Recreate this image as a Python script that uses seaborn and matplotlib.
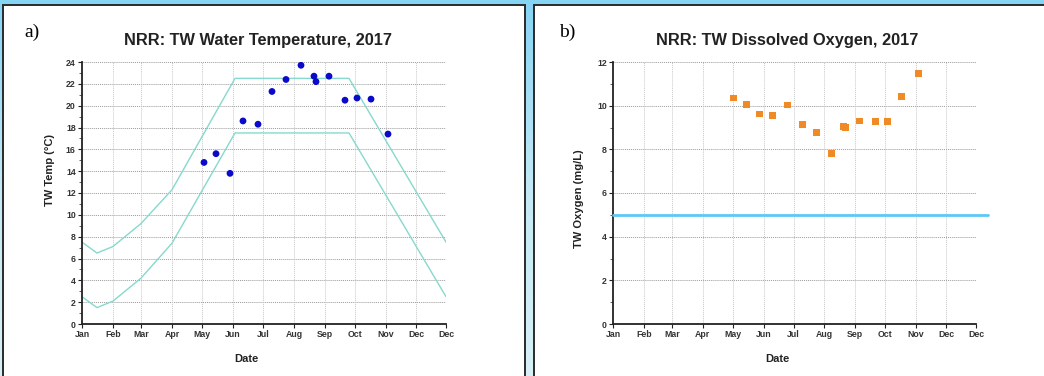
import numpy as np
import pandas as pd
import matplotlib
matplotlib.use("Agg")
import matplotlib.pyplot as plt
from matplotlib.colors import LinearSegmentedColormap
from matplotlib.patches import Rectangle
from matplotlib.ticker import MultipleLocator
import seaborn as sns

# sampling dates (shared by both panels)
sample_dates = ["2017-05-03", "2017-05-15", "2017-05-29", "2017-06-11", "2017-06-26",
                "2017-07-10", "2017-07-24", "2017-08-08", "2017-08-21", "2017-08-23",
                "2017-09-05", "2017-09-21", "2017-10-03", "2017-10-17", "2017-11-03"]
oxygen_dates = ["2017-05-02", "2017-05-15", "2017-05-28", "2017-06-10", "2017-06-25",
                "2017-07-10", "2017-07-24", "2017-08-08", "2017-08-20", "2017-08-22",
                "2017-09-05", "2017-09-21", "2017-10-03", "2017-10-17", "2017-11-03"]

water_temp = [14.8, 15.6, 13.8, 18.6, 18.3, 21.3, 22.4, 23.7, 22.7, 22.2,
              22.7, 20.5, 20.7, 20.6, 17.4]
oxygen = [10.35, 10.06, 9.62, 9.56, 10.03, 9.15, 8.77, 7.82, 9.06, 9.0,
          9.3, 9.26, 9.26, 10.43, 11.47]

# temperature threshold envelope
limit_dates = ["2017-01-01", "2017-01-16", "2017-02-01", "2017-03-01", "2017-04-01",
               "2017-06-03", "2017-09-25", "2017-12-31"]
upper_limit = [7.5, 6.5, 7.1, 9.2, 12.3, 22.5, 22.5, 7.5]
lower_limit = [2.5, 1.5, 2.1, 4.2, 7.4, 17.5, 17.5, 2.5]

oxygen_min = 5.0

month_ticks = ["2017-01-01", "2017-02-01", "2017-03-01", "2017-04-01", "2017-05-01",
               "2017-06-01", "2017-07-01", "2017-08-01", "2017-09-01", "2017-10-01",
               "2017-11-01", "2017-12-01", "2017-12-31"]
month_labels = ["Jan", "Feb", "Mar", "Apr", "May", "Jun", "Jul", "Aug", "Sep",
                "Oct", "Nov", "Dec", "Dec"]

sns.set_theme(style="white")
plt.rcParams["font.family"] = ["Liberation Sans", "DejaVu Sans"]

W, H = 1044, 376
fig = plt.figure(figsize=(W / 100, H / 100), dpi=100)

# light blue gradient background
bg = fig.add_axes([0, 0, 1, 1], zorder=-10)
grad = np.linspace(0, 1, 256).reshape(-1, 1)
cmap_bg = LinearSegmentedColormap.from_list("bg", ["#86d4f4", "#c4e9f6", "#d8f0f5"])
bg.imshow(grad, aspect="auto", cmap=cmap_bg, extent=[0, 1, 0, 1])
bg.set_axis_off()

# white panels
for x0, x1 in [(3, 525), (534, 1050)]:
    fig.patches.append(Rectangle((x0 / W, -0.05), (x1 - x0) / W, 1 - 5 / H + 0.05,
                                 transform=fig.transFigure, facecolor="white",
                                 edgecolor="#2a2a2a", linewidth=1.4, zorder=-5))


def px(x, y):
    return x / W, 1 - y / H


def style_axes(ax, ymax):
    ticks = pd.to_datetime(month_ticks)
    ax.set_xlim(ticks[0], ticks[-1])
    ax.set_ylim(0, ymax)
    ax.set_xticks(ticks)
    ax.set_xticklabels(month_labels)
    ax.yaxis.set_major_locator(MultipleLocator(2))
    ax.yaxis.set_minor_locator(MultipleLocator(1))
    for s in ["top", "right"]:
        ax.spines[s].set_visible(False)
    for s in ["left", "bottom"]:
        ax.spines[s].set_color("#222222")
        ax.spines[s].set_linewidth(1.3)
    ax.tick_params(axis="both", which="major", direction="out", length=3, width=0.8,
                   color="#222222", labelsize=6.3, pad=1.5, left=True, bottom=True)
    ax.tick_params(axis="y", which="minor", direction="out", length=2, width=0.6,
                   color="#444444", left=True)
    for lab in ax.get_xticklabels() + ax.get_yticklabels():
        lab.set_fontweight("bold")
        lab.set_color("#333333")
    ax.grid(False)
    for yv in np.arange(2, ymax + 0.1, 2):
        ax.axhline(yv, color="#9a9a9a", linestyle=(0, (1, 1)), linewidth=0.7, zorder=0)
    for t in ticks[1:]:
        ax.axvline(t, color="#c8c8c8", linestyle=(0, (1, 1)), linewidth=0.7, zorder=0)
    ax.set_xlabel("")
    ax.set_ylabel("")
    ax.set_facecolor("none")


# ---- panel a: water temperature ----
ax1 = fig.add_axes([82 / W, 1 - 324 / H, 364 / W, 262 / H])
limits = pd.DataFrame({"date": pd.to_datetime(limit_dates),
                       "upper": upper_limit, "lower": lower_limit})
temps = pd.DataFrame({"date": pd.to_datetime(sample_dates), "temp": water_temp})
sns.lineplot(data=limits, x="date", y="upper", ax=ax1, color="#86d9cc", linewidth=1.0)
sns.lineplot(data=limits, x="date", y="lower", ax=ax1, color="#86d9cc", linewidth=1.0)
sns.scatterplot(data=temps, x="date", y="temp", ax=ax1, color="#0a0ac8", s=24,
                edgecolor="none", zorder=5)
style_axes(ax1, 24)

# ---- panel b: dissolved oxygen ----
ax2 = fig.add_axes([613 / W, 1 - 324 / H, 363 / W, 262 / H])
oxy = pd.DataFrame({"date": pd.to_datetime(oxygen_dates), "oxygen": oxygen})
sns.scatterplot(data=oxy, x="date", y="oxygen", ax=ax2, color="#f08a24", s=24,
                marker="s", edgecolor="none", zorder=5)
style_axes(ax2, 12)
ax2.plot(pd.to_datetime(["2017-01-01", "2018-01-12"]), [oxygen_min, oxygen_min],
         color="#5cc8f5", linewidth=2.0, clip_on=False, zorder=4)

# titles and labels
fig.text(*px(258, 41), "NRR: TW Water Temperature, 2017", ha="center", va="center",
         fontsize=11.8, fontweight="bold", color="#222222")
fig.text(*px(787, 41), "NRR: TW Dissolved Oxygen, 2017", ha="center", va="center",
         fontsize=11.8, fontweight="bold", color="#222222")
fig.text(*px(246, 359), "Date", ha="center", va="center", fontsize=8,
         fontweight="bold", color="#222222")
fig.text(*px(777, 359), "Date", ha="center", va="center", fontsize=8,
         fontweight="bold", color="#222222")
fig.text(*px(50, 170), "TW Temp (°C)", ha="center", va="center", rotation=90,
         fontsize=8, fontweight="bold", color="#222222")
fig.text(*px(579, 199), "TW Oxygen (mg/L)", ha="center", va="center", rotation=90,
         fontsize=8, fontweight="bold", color="#222222")
fig.text(*px(32, 32), "a)", ha="center", va="center", fontsize=14,
         family=["Liberation Serif", "DejaVu Serif"], color="black")
fig.text(*px(567, 32), "b)", ha="center", va="center", fontsize=14,
         family=["Liberation Serif", "DejaVu Serif"], color="black")

fig.savefig("out.png", dpi=100)
